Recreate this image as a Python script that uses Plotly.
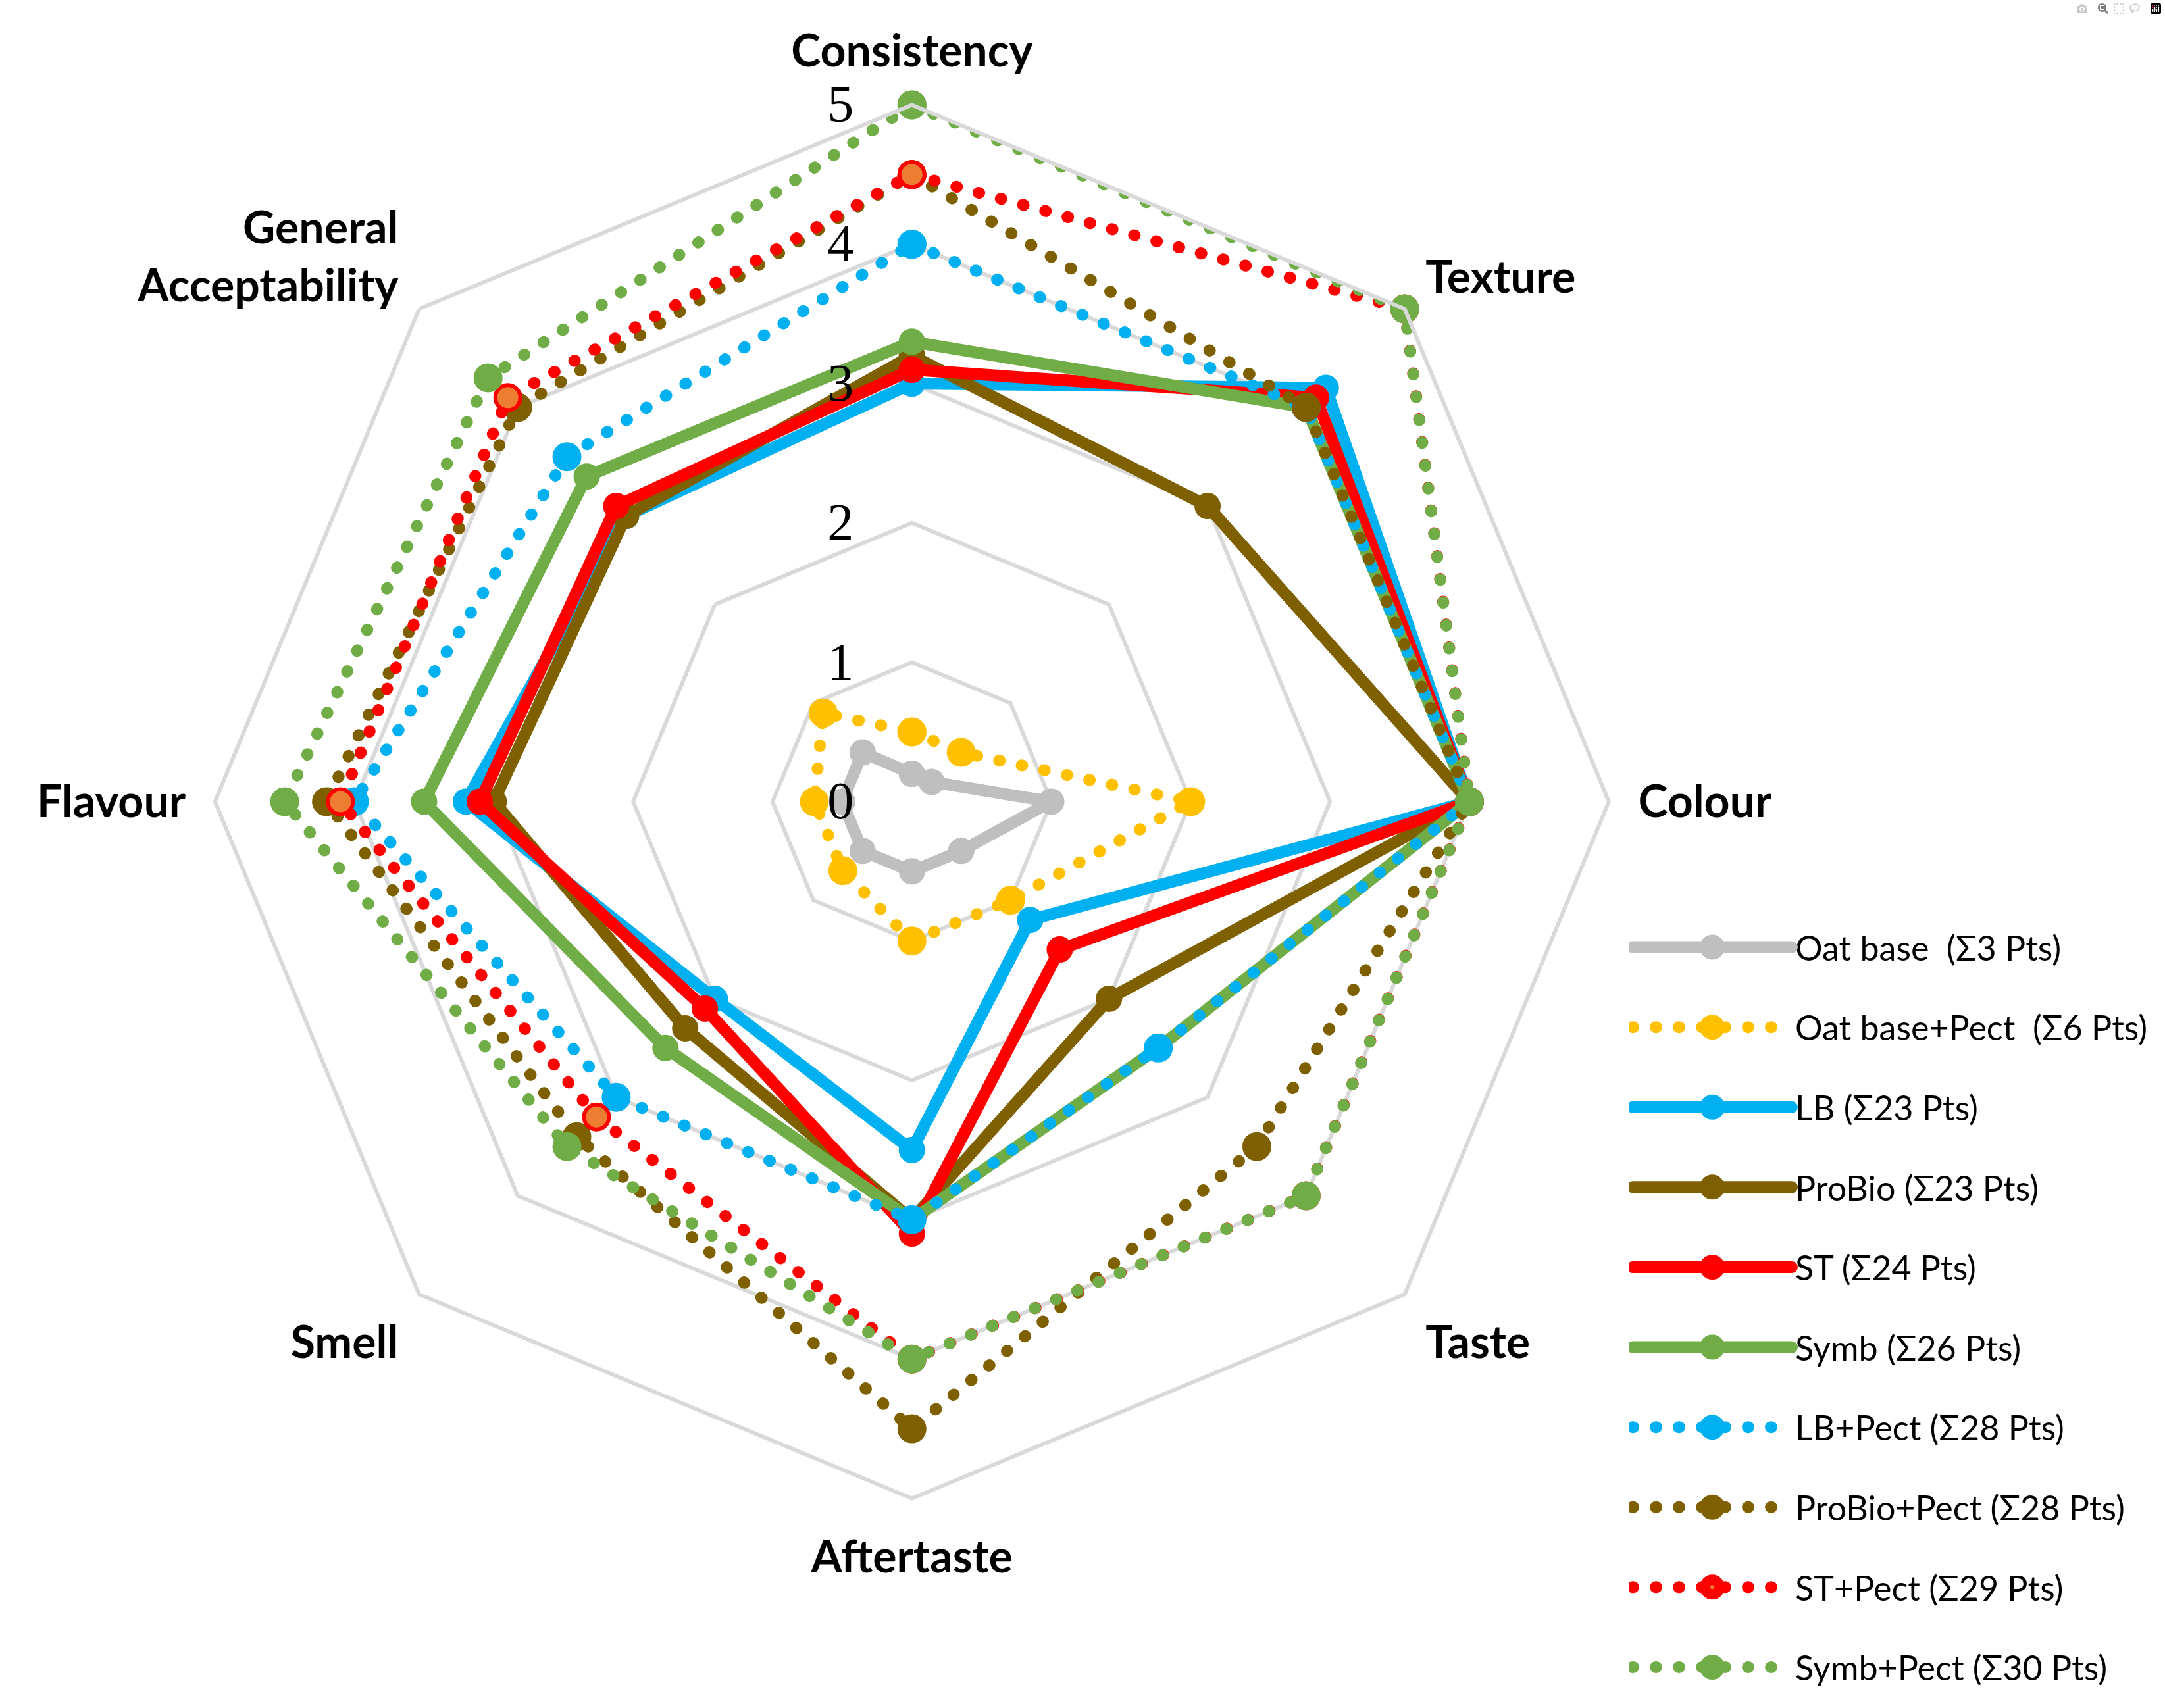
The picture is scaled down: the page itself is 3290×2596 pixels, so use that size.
import plotly.graph_objects as go

categories = ["Consistency", "Texture", "Colour", "Taste", "Aftertaste",
              "Smell", "Flavour", "General<br>Acceptability"]

series_names = [
    "Oat base  (Σ3 Pts)",
    "Oat base+Pect  (Σ6 Pts)",
    "LB (Σ23 Pts)",
    "ProBio (Σ23 Pts)",
    "ST (Σ24 Pts)",
    "Symb (Σ26 Pts)",
    "LB+Pect (Σ28 Pts)",
    "ProBio+Pect (Σ28 Pts)",
    "ST+Pect (Σ29 Pts)",
    "Symb+Pect (Σ30 Pts)",
]

oat_base = [0.2, 0.2, 1.0, 0.5, 0.5, 0.5, 0.5, 0.5]
oat_base_pect = [0.5, 0.5, 2.0, 1.0, 1.0, 0.7, 0.7, 0.9]
lb = [3.0, 4.2, 4.0, 1.2, 2.5, 2.0, 3.2, 2.9]
probio = [3.2, 3.0, 4.0, 2.0, 3.0, 2.3, 3.0, 2.9]
st = [3.1, 4.1, 4.0, 1.5, 3.1, 2.1, 3.1, 3.0]
symb = [3.3, 4.0, 4.0, 2.5, 3.0, 2.5, 3.5, 3.3]
lb_pect = [4.0, 4.0, 4.0, 2.5, 3.0, 3.0, 4.0, 3.5]
probio_pect = [4.5, 4.0, 4.0, 3.5, 4.5, 3.4, 4.2, 4.0]
st_pect = [4.5, 5.0, 4.0, 4.0, 4.0, 3.2, 4.1, 4.1]
symb_pect = [5.0, 5.0, 4.0, 4.0, 4.0, 3.5, 4.5, 4.3]

radial_ticks = [0, 1, 2, 3, 4, 5]

all_values = [oat_base, oat_base_pect, lb, probio, st, symb,
              lb_pect, probio_pect, st_pect, symb_pect]

line_colors = ["#BFBFBF", "#FFC000", "#00B0F0", "#7F6000", "#FF0000",
               "#70AD47", "#00B0F0", "#7F6000", "#FF0000", "#70AD47"]
marker_fill = ["#BFBFBF", "#FFC000", "#00B0F0", "#7F6000", "#FF0000",
               "#70AD47", "#00B0F0", "#7F6000", "#ED7D31", "#70AD47"]
dotted = [False, True, False, False, False, False, True, True, True, True]

fig = go.Figure()
for i, (name, vals) in enumerate(zip(series_names, all_values)):
    r = list(vals) + [vals[0]]
    th = list(categories) + [categories[0]]
    if dotted[i]:
        line = dict(color=line_colors[i], width=18, dash="1px,34px")
        marker = dict(size=38, color=marker_fill[i], symbol="circle",
                      line=dict(color=line_colors[i], width=6))
    else:
        line = dict(color=line_colors[i], width=18)
        marker = dict(size=36, color=marker_fill[i], symbol="circle",
                      line=dict(color=line_colors[i], width=4))
    fig.add_trace(go.Scatterpolar(
        r=r, theta=th, mode="lines+markers", name=name,
        line=line, marker=marker, legendgroup="g%d" % i,
    ))

fig.update_layout(
    width=3290, height=2596,
    margin=dict(l=0, r=0, t=0, b=0),
    paper_bgcolor="white", plot_bgcolor="white",
    polar=dict(
        domain=dict(x=[0.0993, 0.7431], y=[0.1226, 0.9387]),
        bgcolor="white",
        gridshape="linear",
        radialaxis=dict(
            range=[0, 5], tickmode="array", tickvals=radial_ticks,
            ticktext=[str(t) for t in radial_ticks],
            angle=90, tickangle=90, side="counterclockwise",
            showline=False, gridcolor="#D9D9D9", gridwidth=6,
            ticks="outside", ticklen=60, tickcolor="rgba(0,0,0,0)",
            tickfont=dict(family="Liberation Serif", size=80, color="black"),
        ),
        angularaxis=dict(
            type="category", categoryorder="array", categoryarray=categories,
            direction="clockwise", rotation=90,
            showgrid=False, showline=True, linecolor="#D9D9D9", linewidth=6,
            ticks="outside", ticklen=28, tickcolor="rgba(0,0,0,0)",
            tickfont=dict(family="Lato", size=68, color="black", weight="bold"),
        ),
    ),
    legend=dict(
        x=0.7526, y=0.461, xanchor="left", yanchor="top",
        font=dict(family="Lato", size=52, color="black"),
        itemwidth=242, tracegroupgap=51, bgcolor="rgba(0,0,0,0)",
    ),
)

post = """
var st = document.createElement('style');
st.innerHTML = 'html,body{margin:0;padding:0;overflow:hidden}' +
  ' .js-line{stroke-linecap:round !important;stroke-linejoin:round !important}' +
  ' .legend .js-line{stroke-width:18px !important}' +
  ' .legend path.scatterpts{stroke-width:22px !important}';
document.head.appendChild(st);
"""

fig.write_html("out.html", post_script=post)
